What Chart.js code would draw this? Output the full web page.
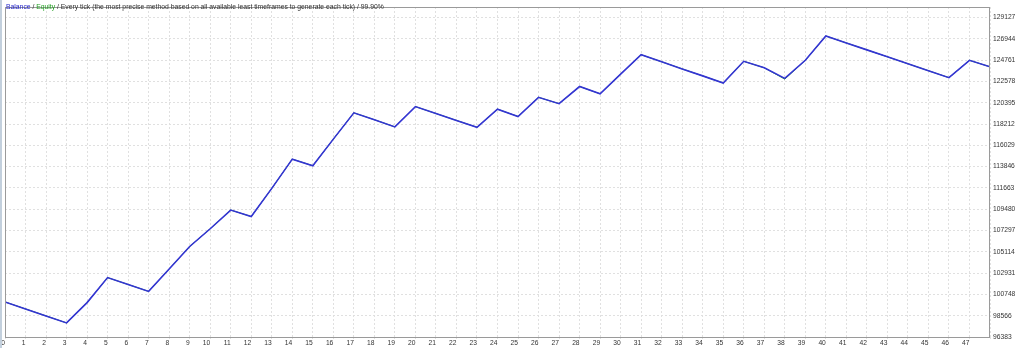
<!DOCTYPE html>
<html><head><meta charset="utf-8">
<script src="https://cdn.jsdelivr.net/npm/chart.js@4/dist/chart.umd.min.js"></script>
<style>
html,body{margin:0;padding:0;background:#fff;width:1024px;height:348px;overflow:hidden}
#wrap{position:relative;width:1024px;height:348px}
#edge{position:absolute;left:0;top:0;width:2px;height:348px;background:#c3d0dd}
#title{position:absolute;left:6px;top:3px;font:6.8px "Liberation Sans",sans-serif;color:#333;white-space:nowrap;line-height:8px}
</style></head><body>
<div id="wrap"><canvas id="c" width="1024" height="348"></canvas><div id="edge"></div><div id="title"><span style="color:#2323c8">Balance</span> / <span style="color:#22a022">Equity</span> / Every tick (the most precise method based on all available least timeframes to generate each tick) / 99.90%</div></div>
<script>
const trades = [0,1,2,3,4,5,6,7,8,9,10,11,12,13,14,15,16,17,18,19,20,21,22,23,24,25,26,27,28,29,30,31,32,33,34,35,36,37,38,39,40,41,42,43,44,45,46,47,48];
const balance = [99977,99261,98544,97827,99907,102471,101765,101058,103360,105662,107480,109398,108732,111619,114618,113942,116668,119364,118657,117920,120000,119293,118586,117880,119737,118990,120949,120303,122060,121313,123332,125321,124594,123867,123150,122423,124645,123978,122898,124746,127239,126528,125816,125104,124392,123680,122969,124746,124079];
const equity = [99977,99261,98544,97827,99907,102471,101765,101058,103360,105662,107480,109398,108732,111619,114618,113942,116668,119364,118657,117920,120000,119293,118586,117880,119737,118990,120949,120303,122060,121313,123332,125321,124594,123867,123150,122423,124645,123978,122820,124746,127239,126528,125816,125104,124392,123680,122969,124746,124079];
const yTickLabels = ["96383","98566","100748","102931","105114","107297","109480","111663","113846","116029","118212","120395","122578","124761","126944","129127"];
const xTickLabels = ["0","1","2","3","4","5","6","7","8","9","10","11","12","13","14","15","16","17","18","19","20","21","22","23","24","25","26","27","28","29","30","31","32","33","34","35","36","37","38","39","40","41","42","43","44","45","46","47"];
const Y_MIN = 96383, Y_MAX = 130209;

const tickFont = {family:'Liberation Sans', size:6.7};
const boxPlugin = {id:'box', afterDraw(c){
  const a=c.chartArea, g=c.ctx; g.save(); g.strokeStyle='#9a9a9a'; g.lineWidth=1;
  g.strokeRect(Math.round(a.left)+0.5, Math.round(a.top)+0.5, Math.round(a.right-a.left)-1, Math.round(a.bottom-a.top));
  g.restore();
}};

new Chart(document.getElementById('c'), {
  type:'line',
  data:{datasets:[
    {label:'Balance', data: trades.map((t,i)=>({x:t,y:balance[i]})), borderColor:'#3434d4', borderWidth:1.6, pointRadius:0, tension:0, order:0},
    {label:'Equity', data: trades.map((t,i)=>({x:t,y:equity[i]})), borderColor:'#22a022', borderWidth:1, pointRadius:0, tension:0, order:1}
  ]},
  options:{
    responsive:false, animation:false, events:[],
    layout:{padding:{left:5,top:2,right:0,bottom:0}},
    plugins:{legend:{display:false}, tooltip:{enabled:false}, title:{display:false}},
    scales:{
      x:{type:'linear', min:0, max:48,
        afterBuildTicks: s=>{ s.ticks = trades.map(v=>({value:v})); },
        afterFit: s=>{ s.height = 11; },
        ticks:{callback:(v,i)=> (xTickLabels[i] !== undefined ? xTickLabels[i] : ''), autoSkip:false, maxRotation:0, minRotation:0, padding:0, font:tickFont, color:'#333', align:'end'},
        grid:{color:'#e0e0e0', lineWidth:1, drawTicks:true, tickLength:2},
        border:{display:false, dash:[2,2]}},
      y:{position:'right', min:Y_MIN, max:Y_MAX,
        afterBuildTicks: s=>{ s.ticks = yTickLabels.map(l=>({value:Number(l)})); },
        afterFit: s=>{ s.width = 34; },
        ticks:{callback:(v,i)=>yTickLabels[i], autoSkip:false, padding:3, font:tickFont, color:'#333'},
        grid:{color:'#e0e0e0', lineWidth:1, drawTicks:false},
        border:{display:false, dash:[2,2]}}
    }
  },
  plugins:[boxPlugin]
});
</script>
</body></html>
